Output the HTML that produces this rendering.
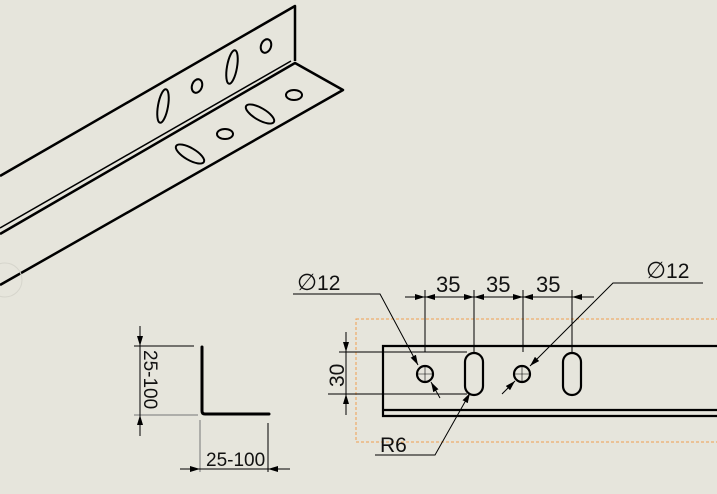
<!DOCTYPE html>
<html><head><meta charset="utf-8"><style>
html,body{margin:0;padding:0;background:#e6e5dc;width:717px;height:494px;overflow:hidden}
svg{display:block}
text{font-family:"Liberation Sans",sans-serif;fill:#111}
</style></head><body>
<svg width="717" height="494" viewBox="0 0 717 494" xmlns="http://www.w3.org/2000/svg">
<defs>
<marker id="a" viewBox="0 0 10 6" refX="10" refY="3" markerWidth="10" markerHeight="6" orient="auto-start-reverse" markerUnits="userSpaceOnUse"><path d="M0,0L10,3L0,6z" fill="#000"/></marker>
</defs>
<rect width="717" height="494" fill="#e6e5dc"/>
<g fill="none" stroke="#000" stroke-linejoin="round">
<path d="M0,176 L295,6 L295,61" stroke-width="2.5"/>
<path d="M0,228 L291,61" stroke-width="1.5"/>
<path d="M0,234 L295,63 L343,90 L0,285" stroke-width="2.5"/>
<ellipse cx="163" cy="106" rx="5" ry="17" transform="rotate(10 163 106)" stroke-width="2"/>
<ellipse cx="197" cy="86" rx="5" ry="7" transform="rotate(20 197 86)" stroke-width="2"/>
<ellipse cx="232" cy="67" rx="5" ry="17" transform="rotate(10 232 67)" stroke-width="2"/>
<ellipse cx="266" cy="46" rx="5" ry="7" transform="rotate(20 266 46)" stroke-width="2"/>
<ellipse cx="190" cy="154" rx="16" ry="6" transform="rotate(30 190 154)" stroke-width="2"/>
<ellipse cx="225" cy="134" rx="8" ry="5" stroke-width="2"/>
<ellipse cx="260" cy="114" rx="16" ry="6" transform="rotate(30 260 114)" stroke-width="2"/>
<ellipse cx="294" cy="95" rx="8" ry="5" stroke-width="2"/>
</g>
<circle cx="5" cy="280" r="17" fill="none" stroke="#d6d5cc" stroke-width="1"/>
<path d="M202,347 L202,411 Q202,414 205,414 L269,414" fill="none" stroke="#000" stroke-width="3" stroke-linecap="round"/>
<g stroke="#000" stroke-width="1" fill="none">
<line x1="134" y1="346" x2="194" y2="346"/>
<line x1="134" y1="415" x2="198" y2="415" stroke="#777"/>
<line x1="140" y1="326" x2="140" y2="346" marker-end="url(#a)"/>
<line x1="140" y1="346" x2="140" y2="415"/>
<line x1="140" y1="436" x2="140" y2="415" marker-end="url(#a)"/>
<line x1="200" y1="420" x2="200" y2="472" stroke="#777"/>
<line x1="268" y1="423" x2="268" y2="472"/>
<line x1="180" y1="469" x2="200" y2="469" marker-end="url(#a)"/>
<line x1="200" y1="469" x2="268" y2="469"/>
<line x1="290" y1="469" x2="268" y2="469" marker-end="url(#a)"/>
</g>
<text x="0" y="0" font-size="19" transform="translate(144,350) rotate(90)">25-100</text>
<text x="206" y="466" font-size="19">25-100</text>
<rect x="356" y="319" width="370" height="123" fill="none" stroke="#f0a050" stroke-width="1" stroke-dasharray="3,2"/>
<path d="M717,346 L383,346 L383,416 L717,416 M383,410 L717,410" fill="none" stroke="#000" stroke-width="2.2"/>
<g fill="none" stroke="#000" stroke-width="2.2">
<circle cx="425" cy="374" r="8"/>
<circle cx="522" cy="374" r="8"/>
<rect x="465" y="353" width="18" height="42" rx="9"/>
<rect x="563" y="353" width="18" height="42" rx="9"/>
</g>
<g stroke="#000" stroke-width="0.6"><path d="M418,374h14M425,367v14M515,374h14M522,367v14"/></g>
<g stroke="#000" stroke-width="1" fill="none">
<line x1="425" y1="290" x2="425" y2="352"/>
<line x1="474" y1="290" x2="474" y2="352"/>
<line x1="523" y1="290" x2="523" y2="352"/>
<line x1="572" y1="290" x2="572" y2="352"/>
<line x1="405" y1="297" x2="425" y2="297" marker-end="url(#a)"/>
<line x1="425" y1="297" x2="474" y2="297" marker-start="url(#a)" marker-end="url(#a)"/>
<line x1="474" y1="297" x2="523" y2="297" marker-start="url(#a)" marker-end="url(#a)"/>
<line x1="523" y1="297" x2="572" y2="297" marker-start="url(#a)"/>
<line x1="594" y1="297" x2="572" y2="297" marker-end="url(#a)"/>
<line x1="339" y1="352" x2="467" y2="352"/>
<line x1="328" y1="394" x2="467" y2="394"/>
<line x1="346" y1="332" x2="346" y2="352" marker-end="url(#a)"/>
<line x1="346" y1="352" x2="346" y2="394"/>
<line x1="346" y1="415" x2="346" y2="394" marker-end="url(#a)"/>
<path d="M293,294 L380,294 L418,365" marker-end="url(#a)"/>
<line x1="440" y1="398" x2="431" y2="382" marker-end="url(#a)"/>
<path d="M703,283 L613,283 L530,366" marker-end="url(#a)"/>
<line x1="502" y1="394" x2="515" y2="381" marker-end="url(#a)"/>
<path d="M375,455 L435,455 L470,393" marker-end="url(#a)"/>
</g>
<text x="436" y="292" font-size="22">35</text>
<text x="486" y="292" font-size="22">35</text>
<text x="536" y="292" font-size="22">35</text>
<text x="0" y="0" font-size="21" transform="translate(344,387) rotate(-90)">30</text>
<text x="297" y="290" font-size="21"><tspan font-size="23">∅</tspan>12</text>
<text x="646" y="278" font-size="21"><tspan font-size="23">∅</tspan>12</text>
<text x="380" y="452" font-size="21">R6</text>
</svg>
</body></html>
